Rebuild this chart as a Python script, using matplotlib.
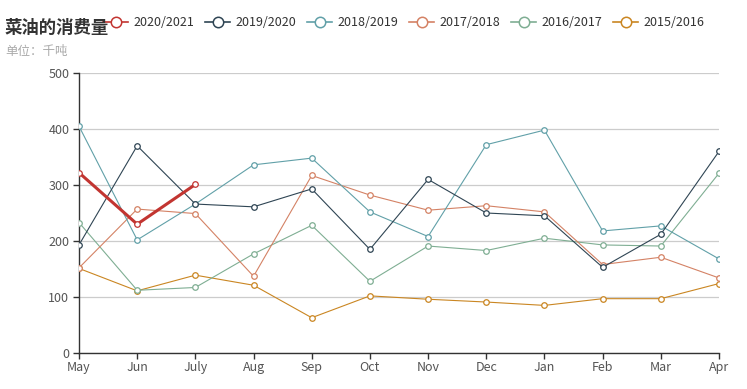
import matplotlib
matplotlib.use('Agg')
import matplotlib.pyplot as plt
from matplotlib.lines import Line2D

plt.rcParams['font.family'] = ['Noto Sans CJK SC', 'DejaVu Sans']

months = ['May', 'Jun', 'July', 'Aug', 'Sep', 'Oct', 'Nov', 'Dec', 'Jan', 'Feb', 'Mar', 'Apr']
seasons = ['2020/2021', '2019/2020', '2018/2019', '2017/2018', '2016/2017', '2015/2016']
colors = ['#c23531', '#2f4554', '#61a0a8', '#d48265', '#7fae93', '#ca8622']

s2020 = [322, 230, 301]
s2019 = [193, 370, 266, 261, 293, 185, 310, 250, 245, 153, 212, 360]
s2018 = [405, 202, 266, 336, 348, 252, 208, 372, 398, 218, 227, 168]
s2017 = [152, 257, 249, 137, 317, 282, 255, 263, 252, 158, 171, 134]
s2016 = [233, 112, 117, 177, 228, 128, 191, 183, 205, 193, 191, 321]
s2015 = [151, 111, 139, 121, 63, 102, 96, 91, 85, 97, 97, 124]
series = [s2020, s2019, s2018, s2017, s2016, s2015]

fig = plt.figure(figsize=(7.47, 3.89), dpi=100)
ax = fig.add_axes([79 / 747, 36 / 389, 640 / 747, 280 / 389])

# draw older seasons first so the current one sits on top
for i in range(len(series) - 1, -1, -1):
    vals = series[i]
    lw = 2.2 if i == 0 else 0.8
    ax.plot(range(len(vals)), vals, color=colors[i], lw=lw, marker='o',
            markersize=4, markerfacecolor='white', markeredgewidth=0.9,
            zorder=3 + (len(series) - i))

ax.set_xlim(0, len(months) - 1)
ax.set_ylim(0, 500)
ax.set_xticks(range(len(months)))
ax.set_xticklabels(months)
ax.set_yticks([0, 100, 200, 300, 400, 500])
ax.yaxis.grid(True, color='#cccccc', lw=0.9)
ax.set_axisbelow(True)
for side in ['top', 'right']:
    ax.spines[side].set_visible(False)
for side in ['left', 'bottom']:
    ax.spines[side].set_color('#333333')
    ax.spines[side].set_linewidth(1)
ax.tick_params(axis='both', colors='#333333', labelcolor='#555555',
               labelsize=9, length=4, width=1)
ax.tick_params(axis='x', pad=2)
ax.tick_params(axis='y', pad=3)

fig.text(5 / 747, 1 - 28 / 389, '菜油的消费量', fontsize=12.5, fontweight='bold',
         color='#333333', va='center', ha='left')
fig.text(5 / 747, 1 - 51 / 389, '单位：千吨', fontsize=9, color='#aaaaaa',
         va='center', ha='left')

# legend drawn by hand, matching echarts spacing
ly = 1 - 22 / 389
for i, name in enumerate(seasons):
    x0 = 103 + i * 102
    fig.add_artist(Line2D([x0 / 747, (x0 + 25) / 747], [ly, ly], transform=fig.transFigure,
                          color=colors[i], lw=1.2))
    fig.add_artist(Line2D([(x0 + 12.5) / 747], [ly], transform=fig.transFigure,
                          color=colors[i], marker='o', markersize=7.5,
                          markerfacecolor='white', markeredgewidth=1.1))
    fig.text((x0 + 30) / 747, ly, name, fontsize=9, color='#333333',
             va='center', ha='left')

fig.savefig('out.png', dpi=100)
